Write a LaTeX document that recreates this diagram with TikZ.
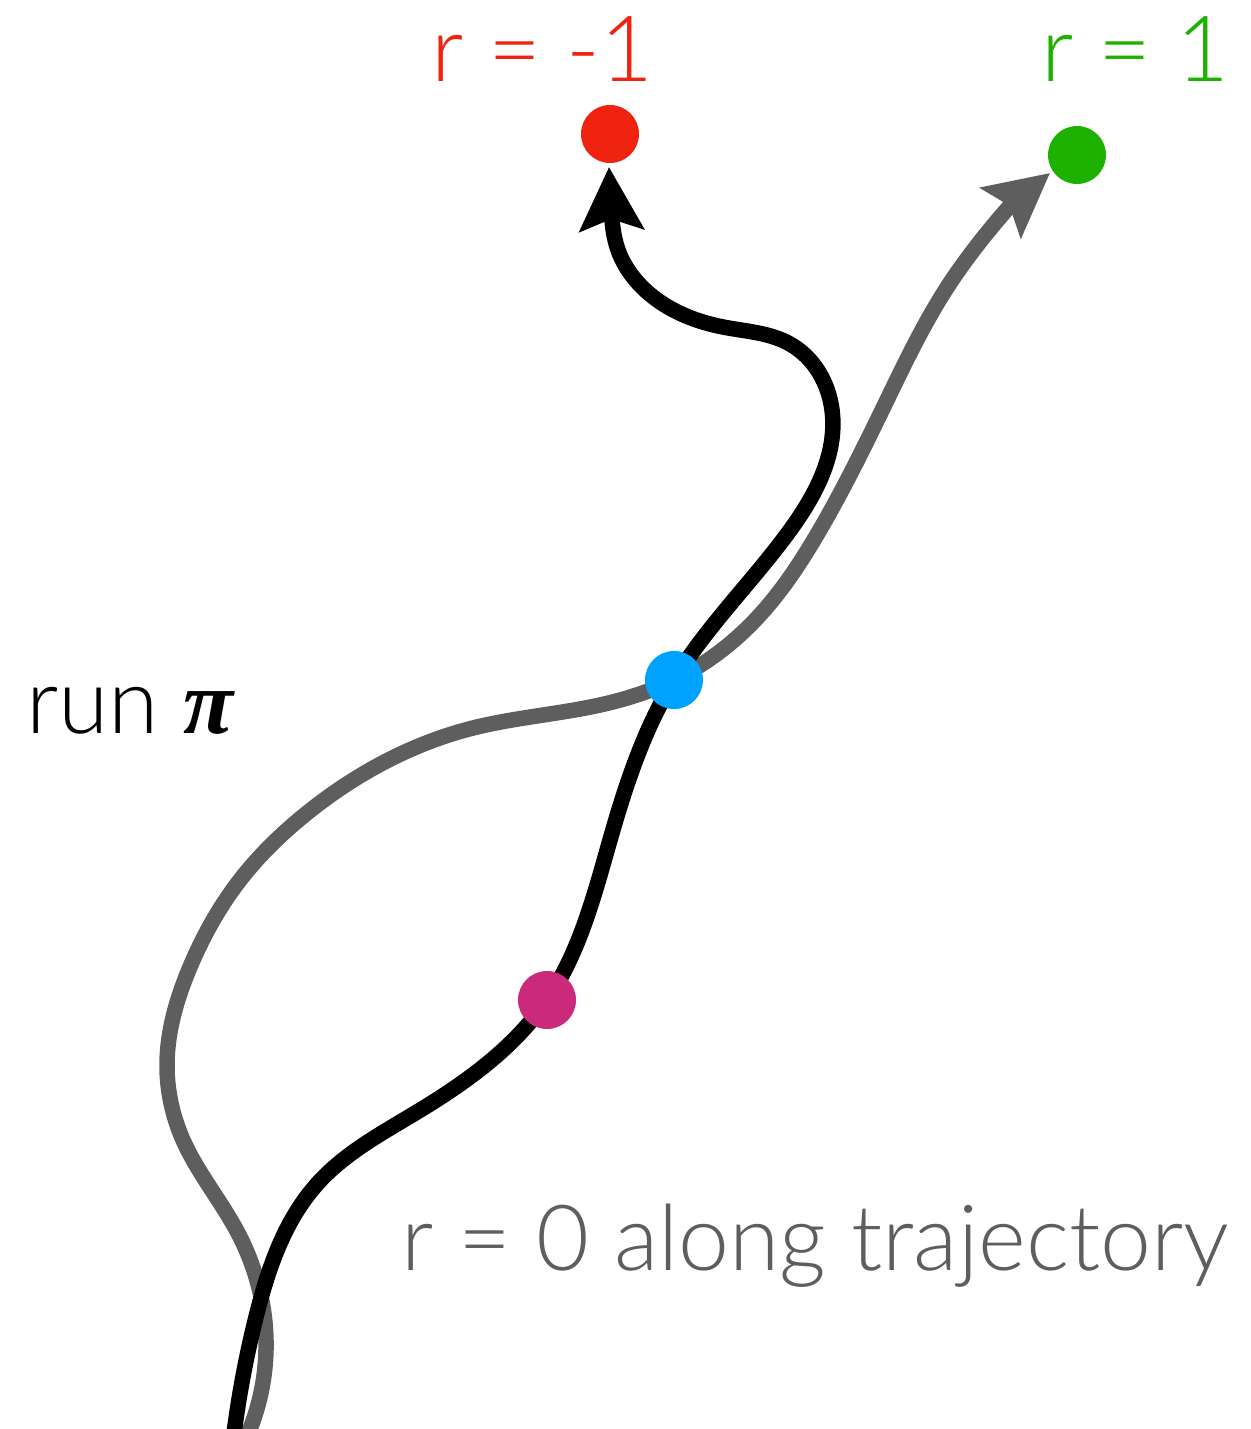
\documentclass[tikz,border=0pt]{standalone}
\usepackage{fontspec}
\setmainfont{Lato Light}
\newfontfamily\pifont{Liberation Serif}
\usetikzlibrary{arrows.meta,backgrounds,hobby}
\definecolor{myred}{RGB}{239,35,15}
\definecolor{mygreen}{RGB}{30,178,0}
\definecolor{myblue}{RGB}{0,162,255}
\definecolor{mymag}{RGB}{203,41,123}
\definecolor{mygray}{RGB}{94,94,94}
\begin{document}
\begin{tikzpicture}[x=0.02cm,y=-0.02cm,
  traj/.style={line width=0.31cm,use Hobby shortcut},
  tipped/.style={-{Stealth[length=1.26cm,width=1.27cm,inset=0.22cm]}},
  dot/.style={circle,inner sep=0pt,minimum size=1.16cm},
  lbl/.style={inner sep=0pt,anchor=base west,font=\fontsize{52}{60}\selectfont}]
\useasboundingbox (0,0) rectangle (1250,1429);
% dots
\node[dot,fill=myred] (red) at (610,134) {};
\node[dot,fill=mygreen] (green) at (1077,155) {};
\node[dot,fill=myblue] (blue) at (674,680) {};
\node[dot,fill=mymag] (mag) at (547,1000) {};
% black waypoints
\coordinate (b0) at (232,1450);
\coordinate (b1) at (256,1317);
\coordinate (b2) at (318,1183);
\coordinate (b3) at (417,1112);
\coordinate (b4) at (612,833);
\coordinate (b5) at (788,533);
\coordinate (b6) at (832,410);
\coordinate (b7) at (790,344);
\coordinate (b8) at (723,327);
\coordinate (b9) at (652,296);
\coordinate (b10) at (617,247);
\coordinate (b11) at (611,206);
\coordinate (btip) at (609,167);
% gray waypoints
\coordinate (g0) at (243,1445);
\coordinate (g1) at (266,1350);
\coordinate (g2) at (238,1233);
\coordinate (g3) at (183,1140);
\coordinate (g4) at (167,1065);
\coordinate (g5) at (190,967);
\coordinate (g6) at (240,880);
\coordinate (g7) at (307,813);
\coordinate (g8) at (473,728);
\coordinate (g9) at (600,705);
\coordinate (g10) at (758,617);
\coordinate (g11) at (818,533);
\coordinate (g12) at (887,400);
\coordinate (g13) at (950,283);
\coordinate (gtip) at (1050,173);
\begin{scope}[on background layer]
\draw[traj,mygray,tipped] (g0) .. (g1) .. (g2) .. (g3) .. (g4) .. (g5) .. (g6)
  .. (g7) .. (g8) .. (g9) .. (blue.center) .. (g10) .. (g11) .. (g12) .. (g13) .. (gtip);
\draw[traj,black,tipped] (b0) .. (b1) .. (b2) .. (b3) .. (mag.center) .. (b4)
  .. (blue.center) .. (b5) .. (b6) .. (b7) .. (b8) .. (b9) .. (b10) .. (b11) .. (btip);
\end{scope}
% labels
\node[lbl,text=myred] (lneg) at (431,82) {r = -1};
\node[lbl,text=mygreen] (lpos) at (1041,82) {r = 1};
\node[lbl,text=black] (lrun) at (26,733) {run {\pifont\bfseries\itshape π}};
\node[lbl,text=mygray] (lzero) at (401,1270) {r = 0 along trajectory};
\end{tikzpicture}
\end{document}
